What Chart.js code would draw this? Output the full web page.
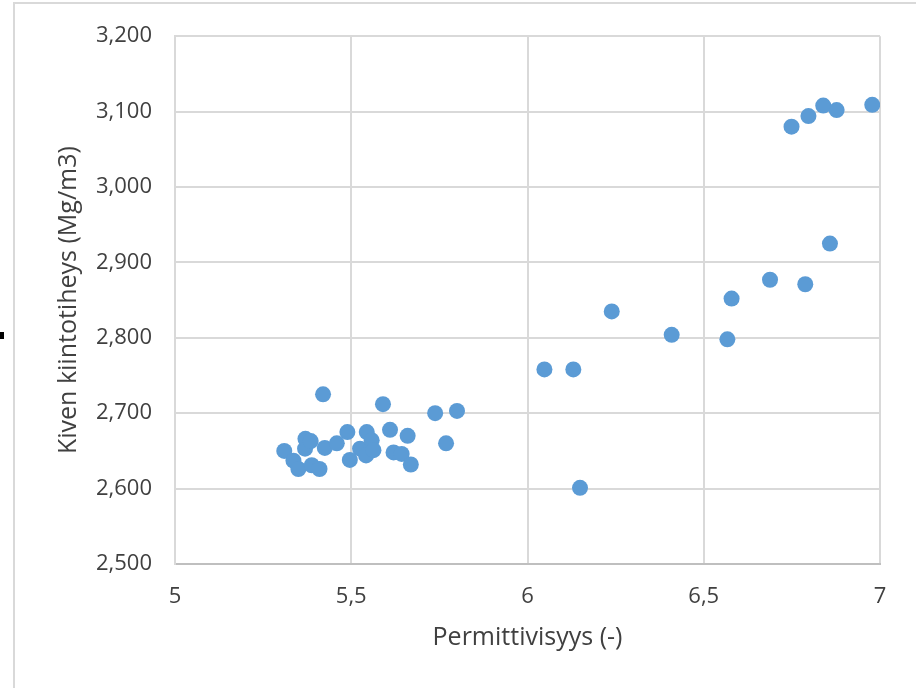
<!DOCTYPE html>
<html>
<head>
<meta charset="utf-8">
<script src="https://cdn.jsdelivr.net/npm/chart.js@4.4.1/dist/chart.umd.min.js"></script>
<style>
  html, body { margin: 0; padding: 0; background: #fff; }
  #wrap { position: relative; width: 916px; height: 688px; overflow: hidden; }
  #kehys { position: absolute; left: 13px; top: 2px; width: 1000px; height: 1000px;
           border-left: 2px solid #d9d9d9; border-top: 2px solid #d9d9d9; }
  #merkki { position: absolute; left: 0; top: 332px; width: 4px; height: 7px; background: #000; }
  canvas { position: absolute; left: 0; top: 0; }
</style>
</head>
<body>
<div id="wrap">
  <div id="kehys"></div>
  <div id="merkki"></div>
  <canvas id="kuva" width="916" height="688"></canvas>
</div>
<script>
// Mittauspisteet: permittiivisyys (x) ja kiven kiintotiheys (y).
const permittiivisyys = [
  5.31, 5.336, 5.35, 5.369, 5.37, 5.385, 5.388, 5.41, 5.42, 5.425,
  5.459, 5.489, 5.496, 5.525, 5.542, 5.544, 5.558, 5.563, 5.59, 5.61,
  5.62, 5.643, 5.66, 5.669, 5.738, 5.769, 5.80,
  6.048, 6.13, 6.149, 6.239, 6.409,
  6.567, 6.579, 6.688, 6.788, 6.858,
  6.749, 6.797, 6.839, 6.877, 6.978,
];
const kiintotiheys = [
  2650, 2637, 2626, 2653, 2666, 2663, 2631, 2626, 2725, 2654,
  2660, 2675, 2638, 2653, 2644, 2675, 2664, 2651, 2712, 2678,
  2648, 2646, 2670, 2632, 2700, 2660, 2703,
  2758, 2758, 2601, 2835, 2804,
  2798, 2852, 2877, 2871, 2925,
  3080, 3094, 3108, 3102, 3109,
];

const X_MIN = 5, X_MAX = 7, X_ASKEL = 0.5;
const Y_MIN = 2500, Y_MAX = 3200, Y_ASKEL = 100;

const X_OTSIKKO = "Permittivisyys (-)";
const Y_OTSIKKO = "Kiven kiintotiheys (Mg/m3)";

const pisteet = permittiivisyys.map((x, i) => ({ x, y: kiintotiheys[i] }));

const FONTTI = { family: "'Open Sans', sans-serif", size: 22 };
const OTSIKKOFONTTI = { family: "'Open Sans', sans-serif", size: 25 };
const TEKSTI = "#404040";
const RUUDUKKO = "#d9d9d9";

new Chart(document.getElementById("kuva"), {
  type: "scatter",
  data: {
    datasets: [{
      data: pisteet,
      backgroundColor: "#5b9bd5",
      borderWidth: 0,
      pointRadius: 8,
      pointHoverRadius: 8,
    }],
  },
  options: {
    responsive: false,
    animation: false,
    layout: { padding: { left: 50, top: 34, right: 36, bottom: 31 } },
    plugins: { legend: { display: false }, tooltip: { enabled: false } },
    scales: {
      x: {
        type: "linear",
        min: X_MIN, max: X_MAX,
        afterFit: (s) => { s.height = 93; },
        ticks: {
          stepSize: X_ASKEL,
          padding: 20,
          color: TEKSTI,
          font: FONTTI,
          maxRotation: 0,
          callback: (v) => String(v).replace(".", ","),
        },
        grid: { color: RUUDUKKO, lineWidth: 2, drawTicks: false },
        border: { color: "#bfbfbf", width: 2 },
        title: { display: true, text: X_OTSIKKO, color: TEKSTI, font: OTSIKKOFONTTI },
      },
      y: {
        min: Y_MIN, max: Y_MAX,
        afterFit: (s) => { s.width = 125; },
        ticks: {
          stepSize: Y_ASKEL,
          padding: 23,
          color: TEKSTI,
          font: FONTTI,
          callback: (v) => v.toLocaleString("en-US"),
        },
        grid: { color: RUUDUKKO, lineWidth: 2, drawTicks: false },
        border: { color: RUUDUKKO, width: 2 },
        title: { display: true, text: Y_OTSIKKO, color: TEKSTI, font: OTSIKKOFONTTI },
      },
    },
  },
});
</script>
</body>
</html>
